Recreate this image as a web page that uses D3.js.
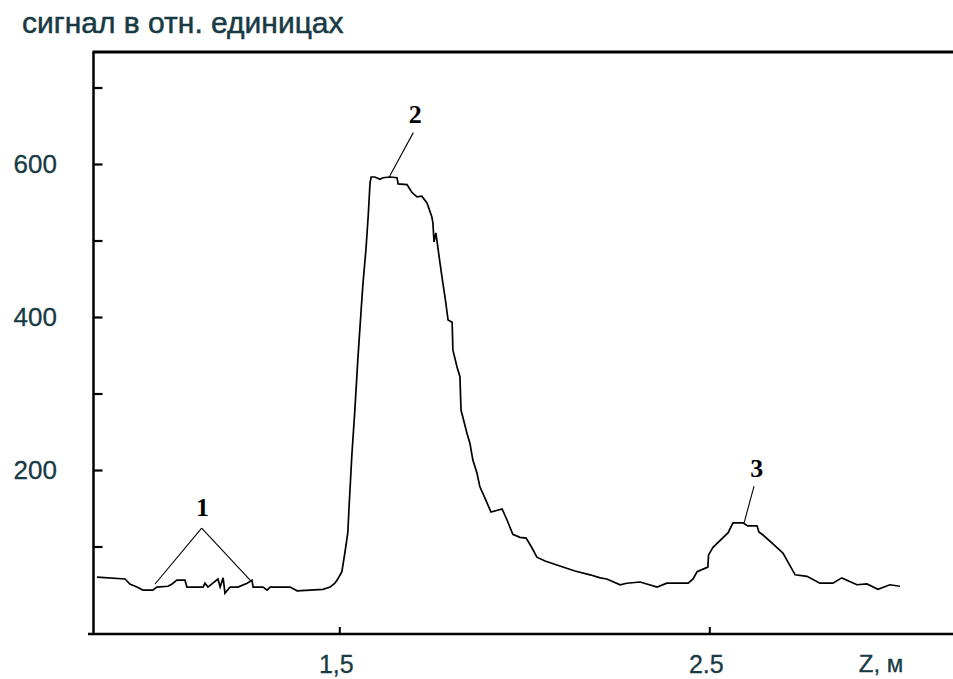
<!DOCTYPE html>
<html>
<head>
<meta charset="utf-8">
<script src="https://cdn.jsdelivr.net/npm/d3@7/dist/d3.min.js"></script>
<style>
  html, body { margin: 0; padding: 0; background: #fff; }
  svg { display: block; }
</style>
</head>
<body>
<svg id="chart" width="953" height="679"></svg>
<script>
// Signal profile along Z (m), relative units
const zValues = [
  0.845, 0.921, 0.934, 0.953, 0.969, 0.996, 1.007, 1.037, 1.048, 1.061,
  1.083, 1.088, 1.110, 1.132, 1.137, 1.145, 1.172, 1.178, 1.186, 1.191,
  1.205, 1.226, 1.251, 1.264, 1.267, 1.294, 1.305, 1.313, 1.340, 1.367,
  1.386, 1.421, 1.456, 1.475, 1.488, 1.496, 1.507, 1.515, 1.523, 1.526,
  1.534, 1.542, 1.550, 1.559, 1.564, 1.572, 1.578, 1.583, 1.586, 1.596,
  1.610, 1.618, 1.637, 1.656, 1.659, 1.683, 1.696, 1.710, 1.723, 1.737,
  1.750, 1.753, 1.756, 1.761, 1.772, 1.780, 1.786, 1.794, 1.805, 1.807,
  1.818, 1.826, 1.829, 1.834, 1.845, 1.853, 1.861, 1.872, 1.880, 1.894,
  1.910, 1.940, 1.953, 1.969, 1.988, 2.005, 2.021, 2.034, 2.056, 2.096,
  2.137, 2.178, 2.205, 2.223, 2.259, 2.277, 2.313, 2.359, 2.385, 2.443,
  2.456, 2.467, 2.496, 2.498, 2.510, 2.551, 2.564, 2.591, 2.604, 2.629,
  2.634, 2.645, 2.669, 2.699, 2.732, 2.764, 2.799, 2.834, 2.858, 2.899,
  2.926, 2.956, 2.988, 3.015
];
const signalValues = [
  60, 57.5, 51, 47, 43, 43, 47, 48, 51, 56,
  56, 47, 47, 47, 52, 47, 57.5, 47, 59, 39,
  47, 47, 52, 56, 47, 47, 43, 47, 47, 47,
  42, 43, 44, 47, 52, 57.5, 67, 91.5, 118, 148,
  220, 278, 344, 409, 444, 488, 531, 575, 583, 583,
  580, 582, 583, 582, 574, 573, 563, 557, 558, 549,
  531, 523, 498, 510, 471, 444, 425, 396, 393, 357,
  335, 322, 278, 269, 248, 235, 213, 196, 178, 163,
  145, 149, 135, 116, 112, 111, 98, 86, 81, 74.5,
  68, 63, 59, 57.5, 50, 52, 53.6, 47, 52, 52,
  57.5, 67, 73, 89, 99, 118, 131, 131, 127, 127,
  119, 115, 104.6, 91.5, 63, 61, 52, 52, 59, 50,
  51, 44, 50, 48
];

// Axis ticks and labels
const yTickValues = [100, 200, 300, 400, 500, 600, 700];
const yLabelValues = [200, 400, 600];
const xTickValues = [1.5, 2.5];
const xTickLabels = ["1,5", "2.5"];

// Peak markers: label, label position, leader line segments
const peakLabels = ["1", "2", "3"];
const peakLabelZ = [1.130, 1.705, 2.628];
const peakLabelV = [140, 654, 191];
const leaderFromZ = [1.128, 1.128, 1.700, 2.621];
const leaderFromV = [124, 124, 641, 179];
const leaderToZ = [1.002, 1.259, 1.635, 2.594];
const leaderToV = [51, 56, 583, 131];

const svg = d3.select("#chart");
const W = 953;
const plotLeft = 93.5, plotTop = 52, axisY = 634;
const textColor = "#173a44";
const sans = "Liberation Sans, Arial, sans-serif";

const x = d3.scaleLinear().domain([1.5, 2.5]).range([339.3, 709.3]);
const y = d3.scaleLinear().domain([0, 700]).range([623, 87.5]);

// Title
svg.append("text")
  .attr("x", 22).attr("y", 33)
  .attr("font-family", sans)
  .attr("font-size", 30)
  .attr("fill", textColor)
  .attr("stroke", textColor)
  .attr("stroke-width", 0.5)
  .text("сигнал в отн. единицах");

// Frame: top border, left axis, bottom axis
const frame = svg.append("g").attr("stroke", "#000").attr("fill", "none");
frame.append("line").attr("x1", plotLeft - 1).attr("x2", W).attr("y1", plotTop).attr("y2", plotTop).attr("stroke-width", 3);
frame.append("line").attr("x1", plotLeft).attr("x2", plotLeft).attr("y1", plotTop).attr("y2", axisY).attr("stroke-width", 2.5);
frame.append("line").attr("x1", 88).attr("x2", W).attr("y1", axisY).attr("y2", axisY).attr("stroke-width", 2.5);

// Y ticks (inward)
const yAxis = svg.append("g")
  .attr("transform", `translate(${plotLeft},0)`)
  .call(d3.axisLeft(y).tickValues(yTickValues).tickSize(-9).tickFormat(""));
yAxis.select(".domain").remove();
yAxis.selectAll(".tick line").attr("stroke", "#000").attr("stroke-width", 2.2);

svg.append("g").selectAll("text")
  .data(yLabelValues)
  .join("text")
  .attr("x", 57)
  .attr("y", d => y(d))
  .attr("dy", "0.36em")
  .attr("text-anchor", "end")
  .attr("font-family", sans)
  .attr("font-size", 26)
  .attr("fill", textColor)
  .attr("stroke", textColor)
  .attr("stroke-width", 0.3)
  .text(d => d);

// X ticks (inward)
const xAxis = svg.append("g")
  .attr("transform", `translate(0,${axisY})`)
  .call(d3.axisBottom(x).tickValues(xTickValues).tickSize(-7).tickFormat(""));
xAxis.select(".domain").remove();
xAxis.selectAll(".tick line").attr("stroke", "#000").attr("stroke-width", 2);

svg.append("g").selectAll("text")
  .data(xTickValues)
  .join("text")
  .attr("x", d => x(d) - 3)
  .attr("y", 673)
  .attr("text-anchor", "middle")
  .attr("font-family", sans)
  .attr("font-size", 25)
  .attr("fill", textColor)
  .attr("stroke", textColor)
  .attr("stroke-width", 0.3)
  .text((d, i) => xTickLabels[i]);

svg.append("text")
  .attr("x", 881).attr("y", 672)
  .attr("text-anchor", "middle")
  .attr("font-family", sans)
  .attr("font-size", 24)
  .attr("fill", textColor)
  .attr("stroke", textColor)
  .attr("stroke-width", 0.3)
  .text("Z, м");

// Signal curve
const points = zValues.map((z, i) => [z, signalValues[i]]);
svg.append("path")
  .datum(points)
  .attr("fill", "none")
  .attr("stroke", "#000")
  .attr("stroke-width", 1.7)
  .attr("stroke-linejoin", "miter")
  .attr("d", d3.line().x(d => x(d[0])).y(d => y(d[1])));

// Peak leader lines
svg.append("g").selectAll("line")
  .data(leaderFromZ)
  .join("line")
  .attr("x1", (d, i) => x(leaderFromZ[i]))
  .attr("y1", (d, i) => y(leaderFromV[i]))
  .attr("x2", (d, i) => x(leaderToZ[i]))
  .attr("y2", (d, i) => y(leaderToV[i]))
  .attr("stroke", "#000")
  .attr("stroke-width", 1.1);

// Peak numbers
svg.append("g").selectAll("text")
  .data(peakLabels)
  .join("text")
  .attr("x", (d, i) => x(peakLabelZ[i]))
  .attr("y", (d, i) => y(peakLabelV[i]))
  .attr("text-anchor", "middle")
  .attr("font-family", "Liberation Serif, Times New Roman, serif")
  .attr("font-weight", "bold")
  .attr("font-size", 26)
  .attr("fill", "#000")
  .text(d => d);
</script>
</body>
</html>
